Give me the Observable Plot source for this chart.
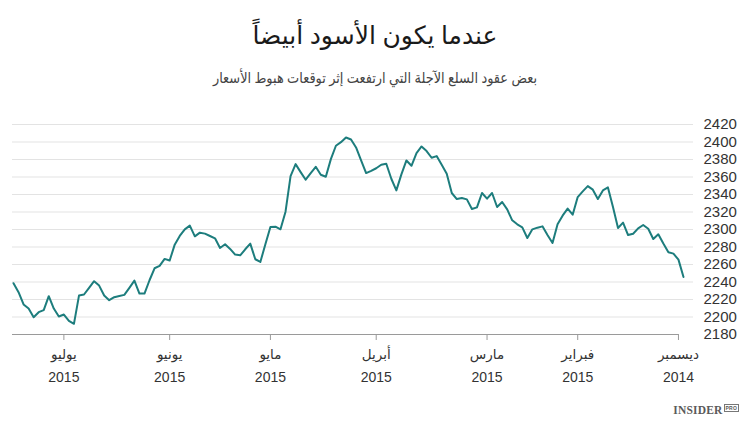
<!DOCTYPE html>
<html lang="ar">
<head>
<meta charset="utf-8">
<script src="https://cdn.jsdelivr.net/npm/d3@7"></script>
<script src="https://cdn.jsdelivr.net/npm/@observablehq/plot@0.6"></script>
<style>
  html, body { margin: 0; padding: 0; background: #fff; }
  body { width: 750px; height: 426px; overflow: hidden; position: relative; font-family: "Open Sans", "DejaVu Sans", sans-serif; }
  #title { position: absolute; top: 18px; left: 0; width: 750px; text-align: center; font-size: 25px; line-height: 32px; color: #1a1a1a; direction: rtl; }
  #subtitle { position: absolute; top: 67px; left: 0; width: 750px; text-align: center; font-size: 15px; line-height: 20px; color: #444; direction: rtl; transform: scaleX(0.86); transform-origin: 375px 50%; }
  #chart { position: absolute; top: 100px; left: 0; }
  #logo { position: absolute; right: 11px; top: 404px; font-family: "Liberation Serif", "DejaVu Serif", serif; font-weight: bold; font-size: 11.5px; color: #5a5a5a; letter-spacing: 0.2px; }
  #logo span { display: inline-block; font-family: "Liberation Sans", sans-serif; font-size: 5px; line-height: 6px; border: 0.6px solid #777; padding: 0 1px; vertical-align: 4px; margin-left: 1px; font-weight: bold; }
</style>
</head>
<body>
<div id="title">عندما يكون الأسود أبيضاً</div>
<div id="subtitle">بعض عقود السلع الآجلة التي ارتفعت إثر توقعات هبوط الأسعار</div>
<div id="chart"></div>
<div id="logo">INSIDER<span>PRO</span></div>
<script>
// Prices, left (newest, July 2015) to right (oldest, December 2014)
const closesNewestFirst = [
  2238.6, 2228.3, 2214.3, 2209.7, 2199.8, 2205.5, 2207.8, 2223.8, 2209.7, 2200.6,
  2202.8, 2195.6, 2192.2, 2224.5, 2225.7, 2233.3, 2240.9, 2235.9, 2224.5, 2219.2,
  2222.6, 2224.1, 2225.3, 2233.3, 2241.6, 2226.8, 2226.8, 2242.0, 2255.7, 2258.4,
  2266.4, 2264.5, 2282.7, 2292.6, 2300.2, 2304.4, 2292.2, 2296.4, 2295.3, 2292.6,
  2289.9, 2278.9, 2283.1, 2277.8, 2271.3, 2270.5, 2277.4, 2283.8, 2266.0, 2262.9,
  2283.1, 2302.9, 2303.2, 2300.2, 2320.4, 2361.1, 2374.7, 2365.6, 2356.9, 2364.5,
  2371.7, 2362.6, 2360.3, 2380.4, 2395.7, 2399.8, 2405.2, 2402.9, 2393.8, 2378.9,
  2364.5, 2367.1, 2370.0, 2374.0, 2375.1, 2358.0, 2344.7, 2363.0, 2378.9, 2372.8,
  2387.3, 2394.9, 2389.6, 2382.0, 2383.9, 2374.0, 2363.7, 2341.7, 2334.8, 2336.0,
  2334.4, 2323.4, 2325.3, 2341.7, 2335.2, 2341.7, 2325.7, 2331.4, 2323.0, 2310.5,
  2305.9, 2302.5, 2290.3, 2300.2, 2302.1, 2303.6, 2293.7, 2284.6, 2305.9, 2315.8,
  2323.8, 2316.9, 2337.1, 2343.6, 2349.6, 2345.5, 2334.8, 2344.7, 2348.1, 2325.7,
  2301.7, 2307.8, 2293.7, 2295.2, 2301.3, 2305.1, 2300.9, 2289.1, 2294.5, 2283.9,
  2274.0, 2272.4, 2265.6, 2245.8
];

// Trading-day index (0 = first day, December 2014) where each month tick sits
const tickDays = [1, 21, 39, 61, 82, 102, 123];
const monthLabels = ["ديسمبر", "فبراير", "مارس", "أبريل", "مايو", "يونيو", "يوليو"];
const yearLabels = ["2014", "2015", "2015", "2015", "2015", "2015", "2015"];
const yTicks = [2180, 2200, 2220, 2240, 2260, 2280, 2300, 2320, 2340, 2360, 2380, 2400, 2420];

const N = closesNewestFirst.length;
const data = closesNewestFirst.map((v, i) => ({ day: N - 1 - i, value: v }));
const monthFor = new Map(tickDays.map((d, i) => [d, monthLabels[i]]));
const yearFor = new Map(tickDays.map((d, i) => [d, yearLabels[i]]));

const chart = Plot.plot({
  width: 750,
  height: 300,
  marginLeft: 13,
  marginRight: 67,
  marginTop: 24,
  marginBottom: 66,
  style: { fontFamily: "'Open Sans', 'DejaVu Sans', sans-serif", fontSize: "14px", color: "#333", background: "transparent" },
  x: { domain: [0, N - 1], reverse: true },
  y: { domain: [2180, 2420] },
  marks: [
    Plot.gridY(yTicks.filter(t => t !== 2180), { stroke: "#e3e3e3", strokeOpacity: 1, strokeWidth: 1, insetLeft: -1, insetRight: -10 }),
    Plot.ruleY([2180], { stroke: "#9a9a9a", strokeWidth: 1, insetLeft: -1, insetRight: 5 }),
    Plot.axisY({ anchor: "right", ticks: yTicks, tickSize: 0, tickPadding: 20, textAnchor: "start", fontSize: 15, fontFamily: "'Liberation Sans', Arial, sans-serif", fill: "#333", tickFormat: d => String(d), label: null }),
    Plot.axisX({ ticks: tickDays, tickSize: 6, tickPadding: 9, stroke: "#9a9a9a", fill: "#333", fontSize: 13.5, fontFamily: "'DejaVu Sans', sans-serif", tickFormat: d => monthFor.get(d), label: null }),
    Plot.axisX({ ticks: tickDays, tickSize: 0, tickPadding: 38, fill: "#333", fontSize: 14, fontFamily: "'Liberation Sans', Arial, sans-serif", tickFormat: d => yearFor.get(d), label: null }),
    Plot.lineY(data, { x: "day", y: "value", stroke: "#1d7d7d", strokeWidth: 2, strokeLinejoin: "round" })
  ]
});
document.getElementById("chart").appendChild(chart);
</script>
</body>
</html>
